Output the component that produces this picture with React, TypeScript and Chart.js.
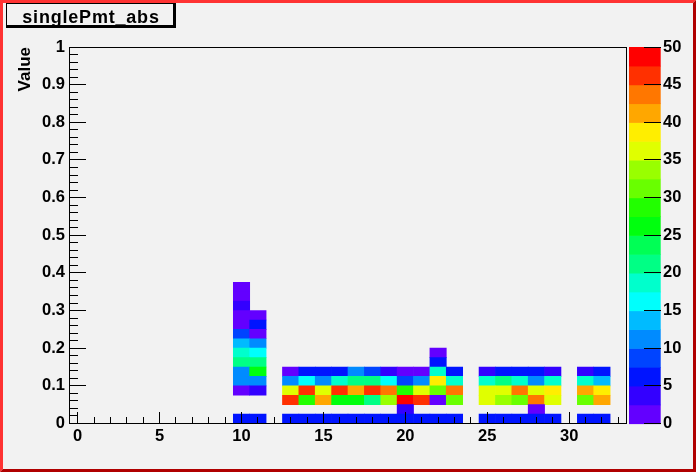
import React, { useEffect, useRef } from 'react';
import { Chart, registerables } from 'chart.js';

Chart.register(...registerables);

// ---------------- data ----------------
const histTitle = 'singlePmt_abs';
const yAxisTitle = 'Value';

// x bin centres (bin width 1), columns 10 .. 33
const xBins = [10, 11, 12, 13, 14, 15, 16, 17, 18, 19, 20, 21, 22, 23, 24, 25, 26, 27, 28, 29, 30, 31, 32, 33];
const xMin = -0.5;
const xMax = 33.5;
const yBinWidth = 0.025;

// cell contents, one array per y bin (row 0 = [0, 0.025))
//               10 11 12 13 14 15 16 17 18 19 20 21 22 23 24 25 26 27 28 29 30 31 32 33
const row00 = [6, 7, 0, 6, 7, 6, 7, 6, 6, 7, 6, 7, 6, 7, 0, 6, 7, 6, 6, 7, 0, 6, 7, 0];
const row01 = [0, 0, 0, 0, 0, 0, 0, 0, 0, 0, 3, 0, 0, 0, 0, 0, 0, 0, 2, 0, 0, 0, 0, 0];
const row02 = [0, 0, 0, 46, 28, 41, 26, 27, 21, 33, 48, 46, 2, 31, 0, 36, 33, 31, 43, 36, 0, 31, 41, 0];
const row03 = [2, 4, 0, 36, 46, 36, 46, 41, 46, 43, 28, 36, 31, 43, 0, 36, 36, 43, 36, 38, 0, 41, 38, 0];
const row04 = [11, 12, 0, 11, 16, 12, 18, 21, 22, 17, 8, 11, 38, 19, 0, 18, 21, 19, 11, 18, 0, 19, 14, 0];
const row05 = [12, 26, 0, 2, 6, 7, 6, 11, 9, 4, 2, 1, 18, 6, 0, 3, 6, 7, 6, 4, 0, 3, 6, 0];
const row06 = [22, 21, 0, 0, 0, 0, 0, 0, 0, 0, 0, 0, 6, 0, 0, 0, 0, 0, 0, 0, 0, 0, 0, 0];
const row07 = [19, 17, 0, 0, 0, 0, 0, 0, 0, 0, 0, 0, 2, 0, 0, 0, 0, 0, 0, 0, 0, 0, 0, 0];
const row08 = [14, 12, 0, 0, 0, 0, 0, 0, 0, 0, 0, 0, 0, 0, 0, 0, 0, 0, 0, 0, 0, 0, 0, 0];
const row09 = [9, 2, 0, 0, 0, 0, 0, 0, 0, 0, 0, 0, 0, 0, 0, 0, 0, 0, 0, 0, 0, 0, 0, 0];
const row10 = [1, 7, 0, 0, 0, 0, 0, 0, 0, 0, 0, 0, 0, 0, 0, 0, 0, 0, 0, 0, 0, 0, 0, 0];
const row11 = [2, 1, 0, 0, 0, 0, 0, 0, 0, 0, 0, 0, 0, 0, 0, 0, 0, 0, 0, 0, 0, 0, 0, 0];
const row12 = [4, 0, 0, 0, 0, 0, 0, 0, 0, 0, 0, 0, 0, 0, 0, 0, 0, 0, 0, 0, 0, 0, 0, 0];
const row13 = [2, 0, 0, 0, 0, 0, 0, 0, 0, 0, 0, 0, 0, 0, 0, 0, 0, 0, 0, 0, 0, 0, 0, 0];
const row14 = [1, 0, 0, 0, 0, 0, 0, 0, 0, 0, 0, 0, 0, 0, 0, 0, 0, 0, 0, 0, 0, 0, 0, 0];
const rows = [row00, row01, row02, row03, row04, row05, row06, row07, row08, row09, row10, row11, row12, row13, row14];

const xTickValues = [0, 5, 10, 15, 20, 25, 30];
const xTickLabels = ['0', '5', '10', '15', '20', '25', '30'];
const yTickValues = [0, 0.1, 0.2, 0.3, 0.4, 0.5, 0.6, 0.7, 0.8, 0.9, 1];
const yTickLabels = ['0', '0.1', '0.2', '0.3', '0.4', '0.5', '0.6', '0.7', '0.8', '0.9', '1'];
const zMin = 0;
const zMax = 50;
const zTickValues = [0, 5, 10, 15, 20, 25, 30, 35, 40, 45, 50];
const zTickLabels = ['0', '5', '10', '15', '20', '25', '30', '35', '40', '45', '50'];

// 20 contour colours (ROOT rainbow palette), low -> high
const paletteColors = [
  '#6300ff', '#3300ff', '#0014ff', '#0044ff', '#008bff',
  '#00bbff', '#00fffc', '#00ffcc', '#00ff85', '#00ff55',
  '#00ff0e', '#22ff00', '#69ff00', '#99ff00', '#e0ff00',
  '#ffee00', '#ffa700', '#ff7700', '#ff3000', '#ff0000',
];

// ---------------- styling ----------------
const BG = '#f2f2f2';
const FONT = 'Liberation Sans';
const tickFont = { family: FONT, size: 16.5, weight: 'bold' as const };

function colorFor(v: number): string {
  const n = paletteColors.length;
  const idx = Math.max(0, Math.min(n - 1, Math.floor(((v - zMin) / (zMax - zMin)) * n)));
  return paletteColors[idx];
}

const pix = (v: number) => Math.floor(v);

const rootPlugin = {
  id: 'rootStyle',
  beforeDraw(chart: any) {
    const { ctx, width, height } = chart;
    ctx.save();
    ctx.fillStyle = BG;
    ctx.fillRect(0, 0, width, height);
    ctx.restore();
  },
  afterDraw(chart: any) {
    const { ctx, chartArea: a, scales, width: W, height: H } = chart;
    const xs = scales.x;
    const ys = scales.y;
    const zs = scales.z;
    ctx.save();

    // colour palette box
    const pl = a.right + 2.5;
    const pr = a.right + 34.2;
    const n = paletteColors.length;
    for (let i = 0; i < n; i++) {
      const lo = zMin + (i * (zMax - zMin)) / n;
      const hi = zMin + ((i + 1) * (zMax - zMin)) / n;
      const yt = zs.getPixelForValue(hi);
      const yb = zs.getPixelForValue(lo);
      ctx.fillStyle = paletteColors[i];
      ctx.fillRect(pl, yt, pr - pl, yb - yt + 0.6);
    }

    // ROOT style inner ticks (1px rectangles)
    ctx.fillStyle = '#000000';
    const L = pix(a.left);
    const B = pix(a.bottom);
    const T = pix(a.top);
    const R = pix(a.right);
    const xLenMaj = Math.round((a.bottom - a.top) * 0.03);
    const yLenMaj = Math.round((a.right - a.left) * 0.03);
    for (let v = Math.ceil(xMin); v <= Math.floor(xMax); v++) {
      const px = pix(xs.getPixelForValue(v));
      const len = v % 5 === 0 ? xLenMaj : Math.round(xLenMaj / 2);
      ctx.fillRect(px, B - len, 1, len);
    }
    for (let j = 0; j <= 50; j++) {
      const py = pix(ys.getPixelForValue(j * 0.02));
      const len = j % 5 === 0 ? yLenMaj : Math.round(yLenMaj / 2);
      ctx.fillRect(L, py, len, 1);
    }
    for (const v of zTickValues) {
      const py = pix(zs.getPixelForValue(v));
      ctx.fillRect(Math.round(pr - yLenMaj), py, yLenMaj, 1);
    }

    // frame
    ctx.fillRect(L, T, R - L + 1, 1);
    ctx.fillRect(L, B, R - L + 1, 1);
    ctx.fillRect(L, T, 1, B - T + 1);
    ctx.fillRect(R, T, 1, B - T + 1);

    // title box
    ctx.fillStyle = '#000';
    ctx.fillRect(6, 3, 170, 25);
    ctx.fillStyle = BG;
    ctx.fillRect(7, 4, 166, 21);
    ctx.fillStyle = '#000';
    ctx.font = `bold 18px "${FONT}"`;
    try { (ctx as any).letterSpacing = '0.8px'; } catch (e) {}
    ctx.textAlign = 'center';
    ctx.textBaseline = 'alphabetic';
    ctx.fillText(histTitle, 91, 22.5);
    try { (ctx as any).letterSpacing = '0px'; } catch (e) {}

    // highlighted canvas border
    const b = 3;
    ctx.fillStyle = '#ff3333';
    ctx.beginPath();
    ctx.moveTo(0, 0); ctx.lineTo(W, 0); ctx.lineTo(W - b, b); ctx.lineTo(b, b);
    ctx.lineTo(b, H - b); ctx.lineTo(0, H); ctx.closePath();
    ctx.fill();
    ctx.fillStyle = '#b00000';
    ctx.beginPath();
    ctx.moveTo(W, 0); ctx.lineTo(W, H); ctx.lineTo(0, H); ctx.lineTo(b, H - b);
    ctx.lineTo(W - b, H - b); ctx.lineTo(W - b, b); ctx.closePath();
    ctx.fill();

    ctx.restore();
  },
};

export default function App() {
  const ref = useRef<HTMLCanvasElement>(null);

  useEffect(() => {
    const canvas = ref.current;
    if (!canvas) return;

    const datasets = rows.map((row, k) => ({
      type: 'bar' as const,
      label: `y bin ${k}`,
      data: row
        .map((v, i) => ({ x: xBins[i], y: [k * yBinWidth, (k + 1) * yBinWidth], v }))
        .filter((d) => d.v > 0),
      backgroundColor: (c: any) => (c.raw ? colorFor(c.raw.v) : paletteColors[0]),
      borderWidth: 0,
      grouped: false,
      barPercentage: 1,
      categoryPercentage: 1,
      xAxisID: 'x',
      yAxisID: 'y',
    }));

    const chart = new Chart(canvas, {
      type: 'bar',
      data: { datasets: datasets as any },
      plugins: [rootPlugin],
      options: {
        animation: false,
        responsive: false,
        devicePixelRatio: 1,
        events: [],
        layout: { padding: { top: 47, left: 0, right: 0, bottom: 0 } },
        plugins: { legend: { display: false }, tooltip: { enabled: false }, title: { display: false } },
        scales: {
          x: {
            type: 'linear',
            min: xMin,
            max: xMax,
            offset: false,
            bounds: 'data',
            grid: { display: false, drawTicks: false, offset: false },
            border: { display: false },
            afterBuildTicks: (s: any) => { s.ticks = xTickValues.map((v) => ({ value: v })); },
            afterFit: (s: any) => { s.height = 48.5; },
            ticks: {
              autoSkip: false,
              maxRotation: 0,
              minRotation: 0,
              padding: 3,
              color: '#000',
              font: tickFont,
              callback: (_v: any, i: number) => xTickLabels[i],
            },
          },
          y: {
            type: 'linear',
            min: 0,
            max: 1,
            bounds: 'data',
            grid: { display: false, drawTicks: false },
            border: { display: false },
            afterBuildTicks: (s: any) => { s.ticks = yTickValues.map((v) => ({ value: v })); },
            afterFit: (s: any) => { s.width = 69.5; },
            ticks: {
              autoSkip: false,
              padding: 4.5,
              color: '#000',
              font: tickFont,
              callback: (_v: any, i: number) => yTickLabels[i],
            },
            title: {
              display: true,
              text: yAxisTitle,
              align: 'end',
              color: '#000',
              font: { family: FONT, size: 17, weight: 'bold' },
              padding: { top: 15, bottom: 0 },
            },
          },
          z: {
            type: 'linear',
            axis: 'y',
            position: 'right',
            min: zMin,
            max: zMax,
            bounds: 'data',
            grid: { display: false, drawTicks: false },
            border: { display: false },
            afterBuildTicks: (s: any) => { s.ticks = zTickValues.map((v) => ({ value: v })); },
            afterFit: (s: any) => { s.width = 69.5; },
            ticks: {
              autoSkip: false,
              padding: 36.5,
              color: '#000',
              font: tickFont,
              callback: (_v: any, i: number) => zTickLabels[i],
            },
          },
        } as any,
      },
    });

    return () => chart.destroy();
  }, []);

  return (
    <div style={{ position: 'absolute', left: 0, top: 0, width: 696, height: 472, background: BG }}>
      <canvas ref={ref} width={696} height={472} style={{ display: 'block', width: '696px', height: '472px' }} />
    </div>
  );
}
